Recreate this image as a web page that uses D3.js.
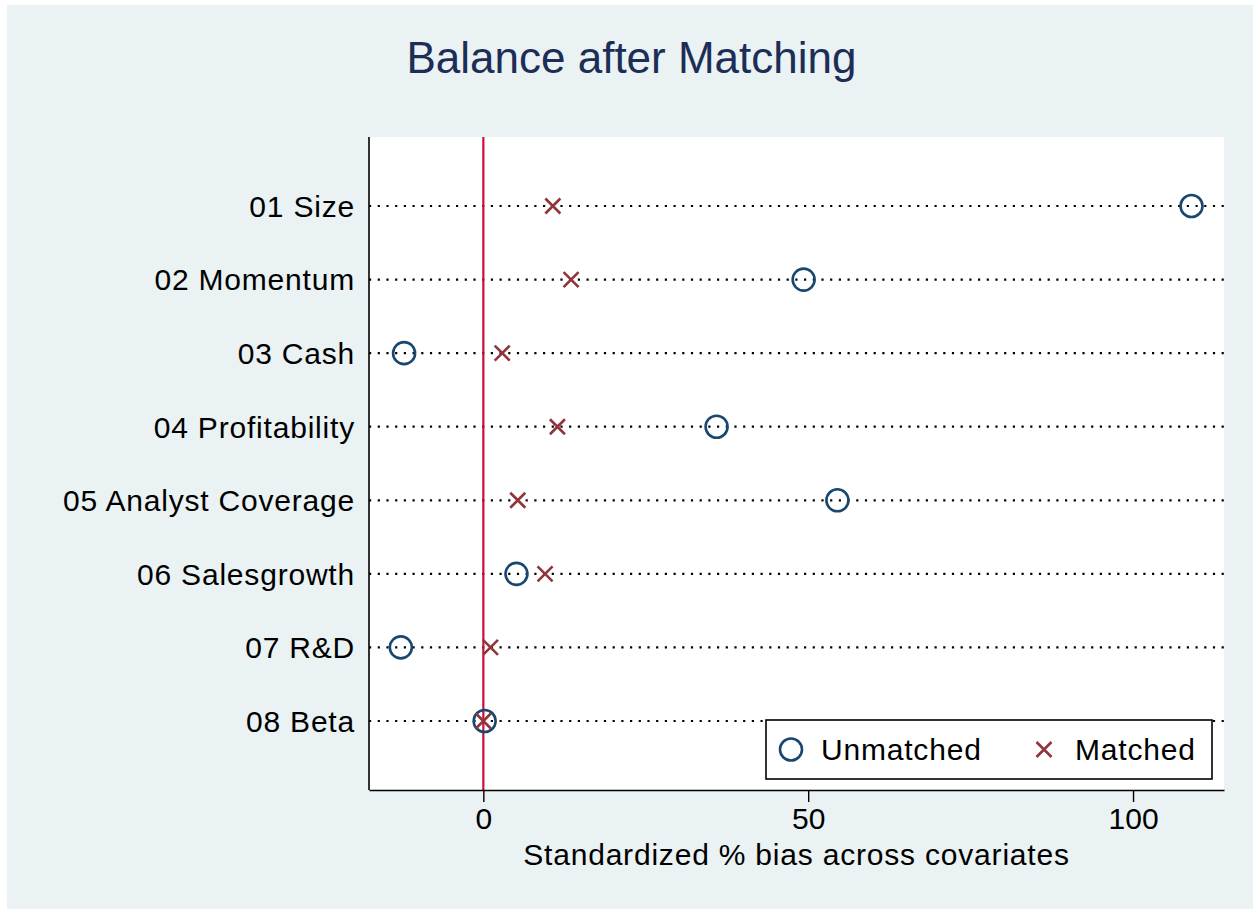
<!DOCTYPE html>
<html>
<head>
<meta charset="utf-8">
<script src="https://cdn.jsdelivr.net/npm/d3@7"></script>
<style>
  body { margin: 0; background: #fff; }
  svg { display: block; font-family: "Liberation Sans", Arial, sans-serif; }
</style>
</head>
<body>
<main></main>
<script>
// covariates, top to bottom
const covariates = ["01 Size", "02 Momentum", "03 Cash", "04 Profitability",
  "05 Analyst Coverage", "06 Salesgrowth", "07 R&D", "08 Beta"];
// standardized % bias before and after matching
const unmatched = [109.0, 49.3, -12.2, 35.9, 54.5, 5.1, -12.7, 0.2];
const matched = [10.7, 13.5, 2.9, 11.4, 5.3, 9.5, 1.1, 0.0];
const xTicks = [0, 50, 100];
const legendLabels = ["Unmatched", "Matched"];

const width = 1253, height = 909;
const plot = { left: 369, right: 1224, top: 137, bottom: 790 };
const textSize = 30, textSpacing = 0.8;

const svg = d3.select("main").append("svg")
  .attr("width", width)
  .attr("height", height);

// outer graph region
svg.append("rect")
  .attr("x", 7).attr("y", 5)
  .attr("width", width - 7).attr("height", height - 5)
  .attr("fill", "#eaf2f3");

// plot region
svg.append("rect")
  .attr("x", plot.left).attr("y", plot.top)
  .attr("width", plot.right - plot.left).attr("height", plot.bottom - plot.top)
  .attr("fill", "#fff");

const x = d3.scaleLinear().domain([-17.6, 114]).range([plot.left, plot.right]);
const y = d3.scalePoint().domain(covariates).range([plot.top, plot.bottom]).padding(0.938);

// dotted guide lines for each covariate
svg.append("g")
  .selectAll("line")
  .data(covariates)
  .join("line")
    .attr("x1", plot.left).attr("x2", plot.right)
    .attr("y1", d => y(d)).attr("y2", d => y(d))
    .attr("stroke", "#000")
    .attr("stroke-width", 2.2)
    .attr("stroke-dasharray", "2.2 6.5");

// zero reference line
svg.append("line")
  .attr("x1", x(0)).attr("x2", x(0))
  .attr("y1", plot.top).attr("y2", plot.bottom)
  .attr("stroke", "#c8103c")
  .attr("stroke-width", 2.2);

// y axis labels
svg.append("g")
  .selectAll("text")
  .data(covariates)
  .join("text")
    .attr("x", plot.left - 14)
    .attr("y", d => y(d))
    .attr("dy", "0.36em")
    .attr("text-anchor", "end")
    .attr("font-size", textSize)
    .attr("letter-spacing", textSpacing)
    .attr("fill", "#000")
    .text(d => d);

// axes
svg.append("line")
  .attr("x1", plot.left).attr("x2", plot.left)
  .attr("y1", plot.top).attr("y2", plot.bottom)
  .attr("stroke", "#000").attr("stroke-width", 1.6);

const xAxis = svg.append("g")
  .attr("transform", `translate(0,${plot.bottom})`)
  .call(d3.axisBottom(x).tickValues(xTicks).tickSize(12).tickPadding(6).tickSizeOuter(0));
xAxis.select(".domain").attr("stroke", "#000").attr("stroke-width", 1.6);
xAxis.selectAll(".tick line").attr("stroke", "#000").attr("stroke-width", 1.4);
xAxis.selectAll(".tick text")
  .attr("font-family", "Liberation Sans, Arial, sans-serif")
  .attr("font-size", textSize)
  .attr("fill", "#000");

svg.append("text")
  .attr("x", (plot.left + plot.right) / 2)
  .attr("y", 865)
  .attr("text-anchor", "middle")
  .attr("font-size", textSize)
  .attr("letter-spacing", textSpacing)
  .attr("fill", "#000")
  .text("Standardized % bias across covariates");

// title
svg.append("text")
  .attr("x", 631.5)
  .attr("y", 73)
  .attr("text-anchor", "middle")
  .attr("font-size", 44)
  .attr("fill", "#1c2d56")
  .text("Balance after Matching");

// markers
const circleColor = "#1a476f", crossColor = "#90353b";
const r = 11, c = 7.5;

function cross(g, cx, cy) {
  g.append("path")
    .attr("d", `M${cx - c},${cy - c}L${cx + c},${cy + c}M${cx - c},${cy + c}L${cx + c},${cy - c}`)
    .attr("stroke", crossColor)
    .attr("stroke-width", 2.6)
    .attr("fill", "none");
}

svg.append("g")
  .selectAll("circle")
  .data(unmatched)
  .join("circle")
    .attr("cx", d => x(d))
    .attr("cy", (d, i) => y(covariates[i]))
    .attr("r", r)
    .attr("fill", "none")
    .attr("stroke", circleColor)
    .attr("stroke-width", 2.6);

const crosses = svg.append("g");
matched.forEach((d, i) => cross(crosses, x(d), y(covariates[i])));

// legend
const legend = svg.append("g");
legend.append("rect")
  .attr("x", 766).attr("y", 720)
  .attr("width", 446).attr("height", 59)
  .attr("fill", "#fff")
  .attr("stroke", "#000")
  .attr("stroke-width", 1.6);
legend.append("circle")
  .attr("cx", 791).attr("cy", 749.5).attr("r", r)
  .attr("fill", "none").attr("stroke", circleColor).attr("stroke-width", 2.6);
cross(legend, 1044, 749.5);
legend.selectAll("text")
  .data(legendLabels)
  .join("text")
    .attr("x", (d, i) => i === 0 ? 821 : 1075)
    .attr("y", 749.5)
    .attr("dy", "0.36em")
    .attr("font-size", textSize)
    .attr("letter-spacing", textSpacing)
    .attr("fill", "#000")
    .text(d => d);
</script>
</body>
</html>
